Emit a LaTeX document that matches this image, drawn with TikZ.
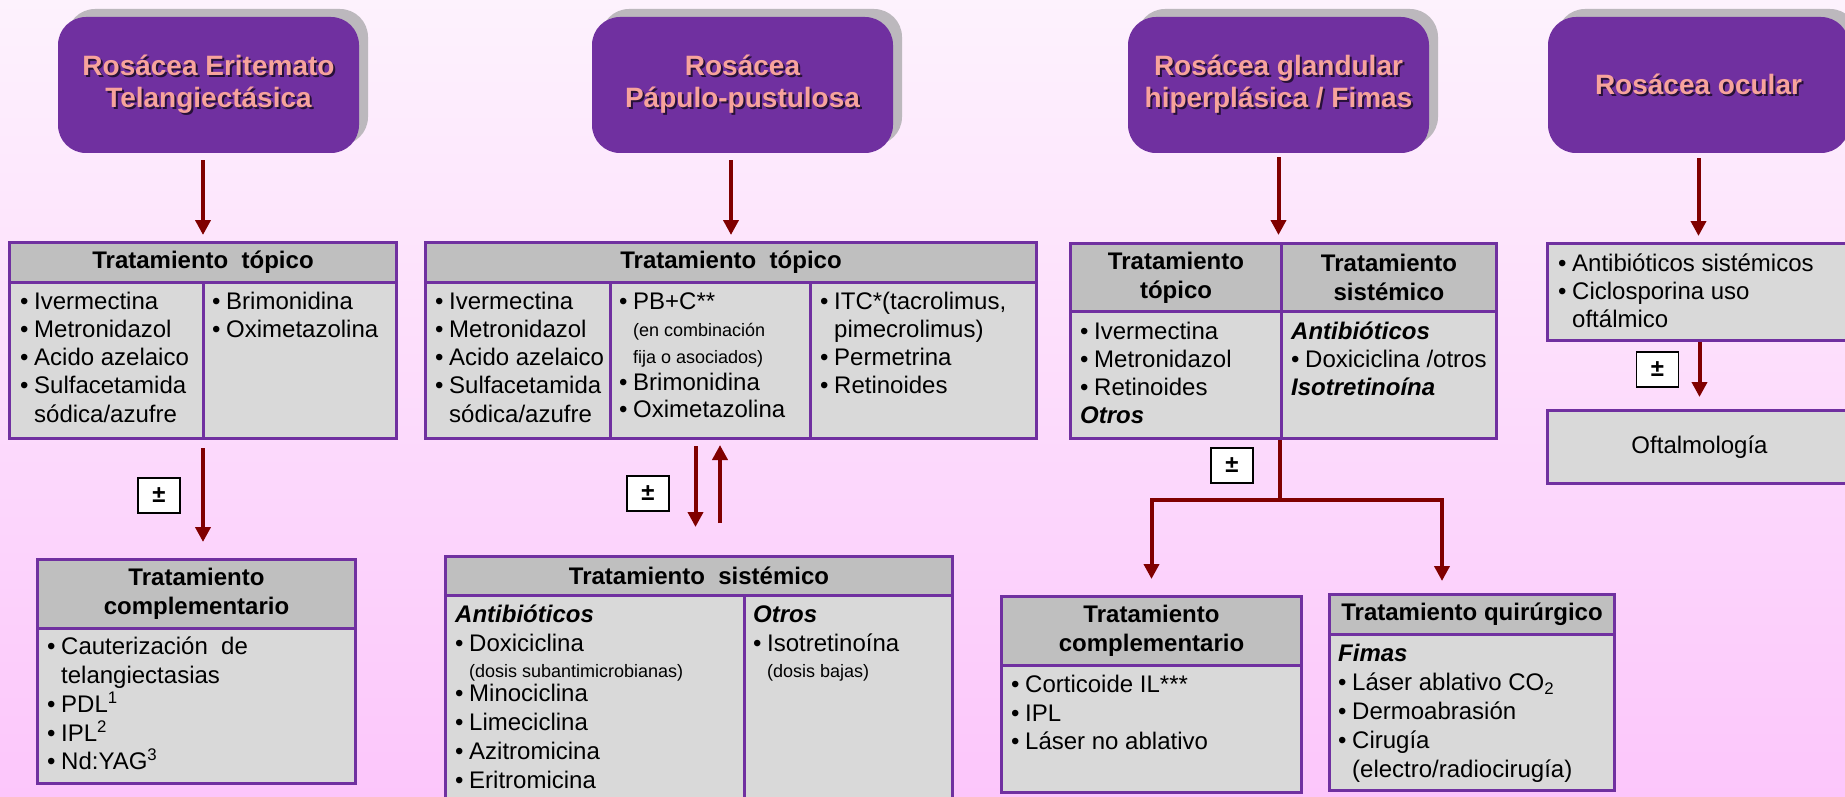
\documentclass[tikz,border=0pt]{standalone}
\usepackage{fontspec}
\setmainfont{Liberation Sans}
\usetikzlibrary{arrows.meta,shadows}

\definecolor{rpurple}{HTML}{7030A0}
\definecolor{rsalmon}{HTML}{F7A39C}
\definecolor{rshadow}{HTML}{BCB8BD}
\definecolor{rmaroon}{HTML}{800000}
\definecolor{rhead}{HTML}{BFBFBF}
\definecolor{rbody}{HTML}{D9D9D9}
\definecolor{bgtop}{HTML}{FDF2FD}
\definecolor{bgbot}{HTML}{FCC6FB}

\newcommand\rbul{\makebox[14pt][l]{•}}
\newcommand\rind{\hspace*{14pt}}
\newcommand\rsh[1]{\makebox[0pt][l]{\hspace{2pt}\raisebox{-2pt}{\textcolor{rpurple!35!black}{#1}}}#1}
\newcommand\rsmall{\fontsize{18}{22}\selectfont}

\tikzset{
  rosbox/.style={rounded corners=28pt, fill=rpurple, minimum width=301pt, minimum height=136pt,
    text=rsalmon, font=\fontsize{28}{32}\selectfont\bfseries, align=center,
    drop shadow={shadow xshift=9pt, shadow yshift=8pt, fill=rshadow, opacity=1}},
  thead/.style={draw=rpurple, line width=3pt, fill=rhead, inner sep=0pt, anchor=north west,
    font=\fontsize{24}{29}\selectfont\bfseries, align=center},
  tcell/.style={draw=rpurple, line width=3pt, fill=rbody, inner sep=0pt, anchor=north west,
    font=\fontsize{24}{28}\selectfont},
  txt/.style={anchor=north west, inner sep=0pt, align=left, font=\fontsize{24}{28.3}\selectfont},
  arr/.style={draw=rmaroon, line width=4pt, -{Triangle[width=15pt,length=15pt]}},
  conn/.style={draw=rmaroon, line width=4pt},
  pm/.style={draw=black, line width=1.5pt, fill=white, minimum width=42pt, minimum height=35pt,
    inner sep=0pt, font=\fontsize{24}{28}\selectfont\bfseries}
}

\begin{document}
\begin{tikzpicture}[x=1pt,y=-1pt]
\useasboundingbox (0,0) rectangle (1845,797);
\clip (0,0) rectangle (1845,797);
\shade[top color=bgtop, bottom color=bgbot] (0,0) rectangle (1845,797);

\node[rosbox] (h1) at (208.5,85) {\rsh{Rosácea Eritemato}\\\rsh{Telangiectásica}};
\node[rosbox] (h2) at (742.5,85) {\rsh{Rosácea}\\\rsh{Pápulo-pustulosa}};
\node[rosbox] (h3) at (1278.5,85) {\rsh{Rosácea glandular}\\\rsh{hiperplásica / Fimas}};
\node[rosbox] (h4) at (1698.5,85) {\rsh{Rosácea ocular}};

% topical tables
\node[thead, minimum width=387pt, minimum height=40pt] (t1h) at (8,241) {Tratamiento\ \ tópico};
\node[tcell, minimum width=194pt, minimum height=156pt] (t1c1) at (8,281) {};
\node[tcell, minimum width=193pt, minimum height=156pt] (t1c2) at (202,281) {};
\node[txt] (t1l) at (20,289) {\strut\rbul Ivermectina\\\rbul Metronidazol\\\rbul Acido azelaico\\\rbul Sulfacetamida\\\rind sódica/azufre};
\node[txt] (t1r) at (212,289) {\strut\rbul Brimonidina\\\rbul Oximetazolina};

\node[thead, minimum width=611pt, minimum height=40pt] (t2h) at (424,241) {Tratamiento\ \ tópico};
\node[tcell, minimum width=184.6pt, minimum height=156pt] (t2c1) at (424,281) {};
\node[tcell, minimum width=200pt, minimum height=156pt] (t2c2) at (608.6,281) {};
\node[tcell, minimum width=226.4pt, minimum height=156pt] (t2c3) at (808.6,281) {};
\node[txt] (t2l) at (435,289) {\strut\rbul Ivermectina\\\rbul Metronidazol\\\rbul Acido azelaico\\\rbul Sulfacetamida\\\rind sódica/azufre};
\node[txt, font=\fontsize{24}{27}\selectfont] (t2m) at (619,290) {\strut\rbul PB+C**\\\rind{\rsmall (en combinación}\\\rind{\rsmall fija o asociados)}\\\rbul Brimonidina\\\rbul Oximetazolina};
\node[txt] (t2r) at (820,289) {\strut\rbul ITC*(tacrolimus,\\\rind pimecrolimus)\\\rbul Permetrina\\\rbul Retinoides};

\node[thead, minimum width=211pt, minimum height=68pt] (t3h1) at (1069,242) {Tratamiento\\tópico};
\node[thead, minimum width=215pt, minimum height=68pt] (t3h2) at (1280,242) {Tratamiento\\sistémico};
\node[tcell, minimum width=211pt, minimum height=127pt] (t3c1) at (1069,310) {};
\node[tcell, minimum width=215pt, minimum height=127pt] (t3c2) at (1280,310) {};
\node[txt] (t3l) at (1080,319) {\strut\rbul Ivermectina\\\rbul Metronidazol\\\rbul Retinoides\\\textbf{\textit{Otros}}};
\node[txt] (t3r) at (1291,319) {\strut\textbf{\textit{Antibióticos}}\\\rbul Doxiciclina /otros\\\textbf{\textit{Isotretinoína}}};

\node[tcell, minimum width=304pt, minimum height=97pt] (o4) at (1546,242) {};
\node[txt] (o4t) at (1558,251) {\strut\rbul Antibióticos sistémicos\\\rbul Ciclosporina uso\\\rind oftálmico};
\node[tcell, minimum width=304pt, minimum height=73pt] (f4) at (1546,409) {Oftalmología};

% lower tables
\node[thead, minimum width=318pt, minimum height=69pt] (c1h) at (36,558) {Tratamiento\\complementario};
\node[tcell, minimum width=318pt, minimum height=155pt] (c1c) at (36,627) {};
\node[txt, font=\fontsize{24}{28.75}\selectfont] (c1t) at (47,634.5) {\strut\rbul Cauterización\ \ de\\\rind telangiectasias\\\rbul PDL\textsuperscript{1}\\\rbul IPL\textsuperscript{2}\\\rbul Nd:YAG\textsuperscript{3}};

\node[thead, minimum width=507pt, minimum height=39pt] (s2h) at (444,555) {Tratamiento\ \ sistémico};
\node[tcell, minimum width=299pt, minimum height=215pt] (s2c1) at (444,594) {};
\node[tcell, minimum width=208pt, minimum height=215pt] (s2c2) at (743,594) {};
\node[txt, font=\fontsize{24}{29}\selectfont] (s2l) at (455,602.3) {\strut\textbf{\textit{Antibióticos}}\\\rbul Doxiciclina\\[-3pt]\rind{\rsmall (dosis subantimicrobianas)}\\[-5pt]\rbul Minociclina\\\rbul Limeciclina\\\rbul Azitromicina\\\rbul Eritromicina};
\node[txt, font=\fontsize{24}{29}\selectfont] (s2r) at (753,602.3) {\strut\textbf{\textit{Otros}}\\\rbul Isotretinoína\\[-3pt]\rind{\rsmall (dosis bajas)}};

\node[thead, minimum width=300pt, minimum height=69pt] (c3h) at (1000,595) {Tratamiento\\complementario};
\node[tcell, minimum width=300pt, minimum height=127pt] (c3c) at (1000,664) {};
\node[txt, font=\fontsize{24}{28.5}\selectfont] (c3t) at (1011,672.6) {\strut\rbul Corticoide IL***\\\rbul IPL\\\rbul Láser no ablativo};

\node[thead, minimum width=285pt, minimum height=40pt] (q3h) at (1328,593) {Tratamiento quirúrgico};
\node[tcell, minimum width=285pt, minimum height=156pt] (q3c) at (1328,633) {};
\node[txt, font=\fontsize{24}{29}\selectfont] (q3t) at (1338,641.3) {\strut\textbf{\textit{Fimas}}\\\rbul Láser ablativo CO\textsubscript{2}\\\rbul Dermoabrasión\\\rbul Cirugía\\\rind(electro/radiocirugía)};

\node[pm] (pm1) at (159,495.5) {±};
\node[pm] (pm2) at (648,493.5) {±};
\node[pm] (pm3) at (1232,465.5) {±};
\node[pm] (pm4) at (1657.5,369.5) {±};

% connectors
\draw[arr, shorten <=7pt, shorten >=6pt] (t1h.north |- h1.south) -- (t1h.north);
\draw[arr, shorten <=7pt, shorten >=6pt] (t2h.north |- h2.south) -- (t2h.north);
\draw[arr, shorten <=4pt, shorten >=7pt] (h3.south) -- (h3.south |- t3h1.north);
\draw[arr, shorten <=5pt, shorten >=6pt] (h4.south) -- (h4.south |- o4.north);

\draw[arr, shorten <=8pt, shorten >=16pt] (t1h.center |- t1c1.south) -- (t1h.center |- c1h.north);
\draw[arr, shorten <=6pt, shorten >=28pt] ([xshift=-3.5pt]s2h.north |- t2c1.south) -- ([xshift=-3.5pt]s2h.north);
\draw[arr, shorten <=32pt, shorten >=5pt] ([xshift=21pt]s2h.north) -- ([xshift=21pt]s2h.north |- t2c1.south);

\coordinate (j3) at ([yshift=-60pt]t3c2.south west);
\draw[conn] (t3c2.south west) -- (j3);
\draw[arr, shorten >=16pt] (j3) -| (c3h.north);
\draw[arr, shorten >=12pt] (j3) -| ([xshift=-30pt]q3h.north);

\draw[arr, shorten >=12pt] (o4.south) -- (f4.north);
\end{tikzpicture}
\end{document}
